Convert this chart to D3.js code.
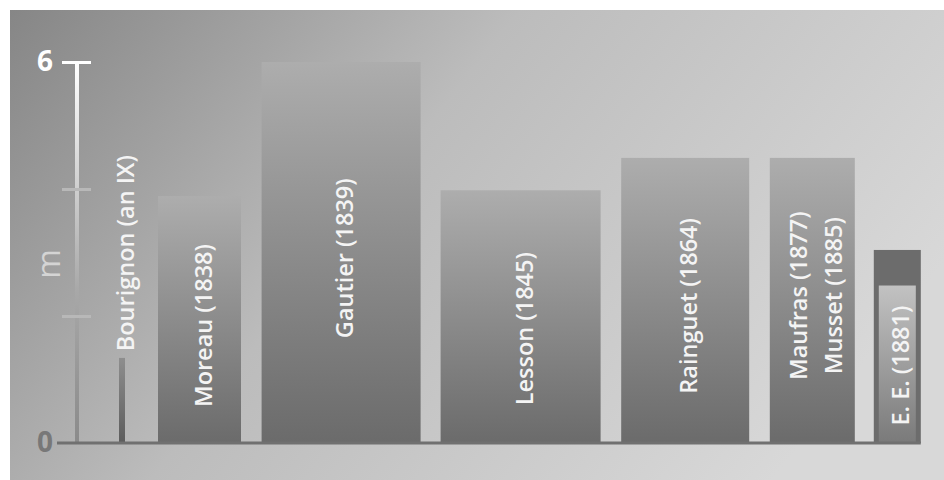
<!DOCTYPE html>
<html>
<head>
<meta charset="utf-8">
<script src="https://cdn.jsdelivr.net/npm/d3@7"></script>
<style>
  body { margin: 0; background: #fff; }
  svg { display: block; }
</style>
</head>
<body>
<script>
const w = 944
const h = 480

// data
const names = [
	['Bourignon (an IX)'],
	['Moreau (1838)'],
	['Gautier (1839)'],
	['Lesson (1845)'],
	['Rainguet (1864)'],
	['Maufras (1877)', 'Musset (1885)'],
	['E. E. (1881)']
]
const heights = [1.34, 3.89, 6, 3.98, 4.49, 4.49, 3.04]
const innerHeights = [null, null, null, null, null, null, 2.48]
const widths = [0.3, 4.15, 7.95, 8.0, 6.4, 4.25, 2.35]
const labelAt = [2.99, 1.85, 2.91, 1.8, 2.16, 2.32, 1.22]
const yTicks = [0, 2, 4, 6]

const svg = d3.select('body')
	.append('svg')
	.attr('width', w)
	.attr('height', h)

const defs = svg.append('defs')

const bg = defs.append('linearGradient')
	.attr('id', 'bg')
	.attr('gradientUnits', 'userSpaceOnUse')
	.attr('x1', 10).attr('y1', 10)
	.attr('x2', 710).attr('y2', 560)
bg.append('stop').attr('offset', 0).attr('stop-color', '#868686')
bg.append('stop').attr('offset', 0.45).attr('stop-color', '#bcbcbc')
bg.append('stop').attr('offset', 1).attr('stop-color', '#d8d8d8')

const barGrad = defs.append('linearGradient')
	.attr('id', 'bar')
	.attr('x1', 0).attr('y1', 0).attr('x2', 0).attr('y2', 1)
barGrad.append('stop').attr('offset', 0).attr('stop-color', '#adadad')
barGrad.append('stop').attr('offset', 1).attr('stop-color', '#6b6b6b')

const thinGrad = defs.append('linearGradient')
	.attr('id', 'thin')
	.attr('x1', 0).attr('y1', 0).attr('x2', 0).attr('y2', 1)
thinGrad.append('stop').attr('offset', 0).attr('stop-color', '#8e8e8e')
thinGrad.append('stop').attr('offset', 1).attr('stop-color', '#5c5c5c')

const innerGrad = defs.append('linearGradient')
	.attr('id', 'inner')
	.attr('x1', 0).attr('y1', 0).attr('x2', 0).attr('y2', 1)
innerGrad.append('stop').attr('offset', 0).attr('stop-color', '#c2c2c2')
innerGrad.append('stop').attr('offset', 1).attr('stop-color', '#7a7a7a')

const axisGrad = defs.append('linearGradient')
	.attr('id', 'axisg')
	.attr('gradientUnits', 'userSpaceOnUse')
	.attr('x1', 0).attr('y1', 62).attr('x2', 0).attr('y2', 443)
axisGrad.append('stop').attr('offset', 0).attr('stop-color', '#ffffff')
axisGrad.append('stop').attr('offset', 0.6).attr('stop-color', '#a8a8a8')
axisGrad.append('stop').attr('offset', 1).attr('stop-color', '#8a8a8a')

svg.append('rect')
	.attr('x', 10).attr('y', 10)
	.attr('width', w - 10).attr('height', h - 10)
	.attr('fill', 'url(#bg)')

const yScale = d3.scaleLinear()
	.domain([0, 6])
	.range([443, 62])

// variable width bars laid out one after another
const pxPerUnit = 20
const gaps = [0, 1.65, 1.03, 1.0, 1.03, 1.03, 0.95]
let acc = 0
const starts = widths.map((wd, i) => {
	acc += gaps[i]
	const s = acc
	acc += wd
	return s
})
const xScale = d3.scaleLinear()
	.domain([0, 1])
	.range([119, 119 + pxPerUnit])

const bars = names.map((n, i) => ({
	names: n,
	value: heights[i],
	inner: innerHeights[i],
	x0: starts[i],
	x1: starts[i] + widths[i],
	label: labelAt[i]
}))

svg.selectAll('rect.bar')
	.data(bars)
	.enter()
	.append('rect')
	.attr('class', 'bar')
	.attr('x', d => xScale(d.x0))
	.attr('y', d => yScale(d.value))
	.attr('width', d => xScale(d.x1) - xScale(d.x0))
	.attr('height', d => yScale(0) - yScale(d.value))
	.attr('fill', (d, i) => i === 0 ? 'url(#thin)' : d.inner != null ? '#6c6c6c' : 'url(#bar)')

svg.selectAll('rect.inner')
	.data(bars.filter(d => d.inner != null))
	.enter()
	.append('rect')
	.attr('class', 'inner')
	.attr('x', d => xScale(d.x0) + 5)
	.attr('y', d => yScale(d.inner))
	.attr('width', d => xScale(d.x1) - xScale(d.x0) - 10)
	.attr('height', d => yScale(0) - yScale(d.inner))
	.attr('fill', 'url(#inner)')

// y axis
const yAxis = d3.axisLeft()
	.scale(yScale)
	.tickValues(yTicks)
	.tickSize(14)
	.tickPadding(10)
	.tickFormat(d => (d === 0 || d === 6) ? d : '')

const ax = svg.append('g')
	.attr('class', 'axis')
	.attr('transform', 'translate(77,0)')
	.call(yAxis)

ax.select('.domain').remove()
ax.insert('rect', ':first-child')
	.attr('x', -2)
	.attr('y', yScale(6))
	.attr('width', 4)
	.attr('height', yScale(0) - yScale(6))
	.attr('fill', 'url(#axisg)')
ax.selectAll('.tick line')
	.attr('x1', -15)
	.attr('x2', 14)
	.attr('stroke-width', 3)
	.attr('stroke', d => d === 6 ? '#ffffff' : '#b8b8b8')
ax.selectAll('.tick')
	.filter(d => d === 0)
	.select('line')
	.remove()
ax.selectAll('.tick text')
	.attr('font-family', '"Open Sans", sans-serif')
	.attr('font-weight', 700)
	.attr('font-size', '28px')
	.attr('fill', d => d === 6 ? '#ffffff' : '#787878')

svg.append('line')
	.attr('x1', 57)
	.attr('x2', xScale(bars[bars.length - 1].x1))
	.attr('y1', yScale(0))
	.attr('y2', yScale(0))
	.attr('stroke', '#707070')
	.attr('stroke-width', 3)

svg.append('text')
	.attr('transform', `translate(47,${yScale(2.82)}) rotate(-90)`)
	.attr('text-anchor', 'middle')
	.attr('dominant-baseline', 'central')
	.attr('font-family', '"Open Sans", sans-serif')
	.attr('font-size', '32px')
	.attr('fill', '#d4d4d4')
	.text('m')

// bar labels
const labels = svg.selectAll('text.label')
	.data(bars)
	.enter()
	.append('text')
	.attr('class', 'label')
	.attr('transform', d => {
		const cx = (xScale(d.x0) + xScale(d.x1)) / 2 + 3 - (d.names.length - 1) * 17
		return `translate(${cx},${yScale(d.label)}) rotate(-90)`
	})
	.attr('text-anchor', 'middle')
	.attr('font-family', '"Open Sans", sans-serif')
	.attr('font-weight', 600)
	.attr('font-size', '23.5px')
	.attr('fill', '#f4f4f4')

labels.selectAll('tspan')
	.data(d => d.names)
	.enter()
	.append('tspan')
	.attr('x', 0)
	.attr('y', (d, i) => i * 35)
	.attr('dominant-baseline', 'central')
	.text(d => d)
</script>
</body>
</html>
